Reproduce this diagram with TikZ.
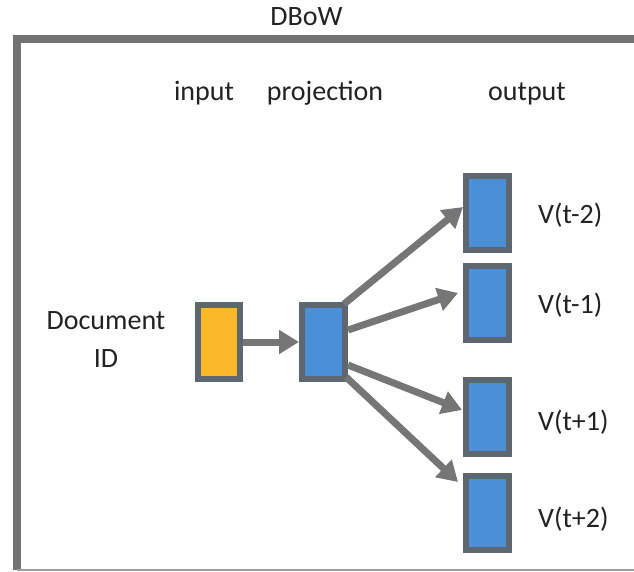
\documentclass[tikz,border=0pt]{standalone}
\usepackage{fontspec}
\setmainfont{Carlito}
\usetikzlibrary{arrows.meta,calc}
\definecolor{framegray}{HTML}{737373}
\definecolor{arrowgray}{HTML}{767676}
\definecolor{boxedge}{HTML}{5E6770}
\definecolor{yel}{HTML}{FBB829}
\definecolor{blu}{HTML}{4A90D9}
\definecolor{txt}{HTML}{222222}
\begin{document}
\begin{tikzpicture}[x=1pt,y=-1pt,
  lbl/.style={font=\fontsize{28}{38}\selectfont, text=txt, inner sep=0pt},
  unit/.style={draw=boxedge, line width=6pt, minimum width=43pt, minimum height=74pt, inner sep=0pt, fill=blu},
  flow/.style={draw=arrowgray, line width=7pt, -{Triangle[length=20pt,width=23pt]}}]
\useasboundingbox (0,0) rectangle (634,571);
\fill[white] (0,0) rectangle (634,571);
% frame
\coordinate (fbl) at (17,570);
\coordinate (ftl) at (17,39);
\coordinate (ftr) at (640,39);
\draw[framegray, line width=8pt, line join=miter] (fbl) -- (ftl) -- (ftr);
\coordinate (bbl) at (17,569.5);
\coordinate (bbr) at (640,569.5);
\draw[framegray!70, line width=2pt] (bbl) -- (bbr);
% labels
\node[lbl, anchor=base] (title) at (306.5,25) {DBoW};
\node[lbl, anchor=base] (linput) at (204,100) {input};
\node[lbl, anchor=base] (lproj) at (325,100) {projection};
\node[lbl, anchor=base] (lout) at (527,100) {output};
\node[lbl, align=center] (doc) at (106,340) {Document\\ID};
% boxes
\node[unit, fill=yel, minimum width=42pt] (in) at (219,342) {};
\node[unit] (proj) at (323.5,342) {};
\node[unit] (o1) at (487.5,213) {};
\node[unit] (o2) at (487.5,303) {};
\node[unit] (o3) at (487.5,417) {};
\node[unit] (o4) at (487.5,513) {};
% output labels
\node[lbl, anchor=base west] (v1) at (538,223) {V(t-2)};
\node[lbl, anchor=base west] (v2) at (538,313) {V(t-1)};
\node[lbl, anchor=base west] (v3) at (538,430) {V(t+1)};
\node[lbl, anchor=base west] (v4) at (538,527) {V(t+2)};
% arrows
\draw[flow] (in.east) -- (proj.west);
\draw[flow] ($(proj.north east)+(-4,2)$) -- ($(o1.west)+(0,-6)$);
\draw[flow] ($(proj.east)+(0,-12)$) -- ($(o2.west)+(-5,-10)$);
\draw[flow] ($(proj.east)+(0,23)$) -- ($(o3.west)+(-1,-7)$);
\draw[flow] ($(proj.south east)+(-2,-5)$) -- ($(o4.west)+(-5,-31)$);
\end{tikzpicture}
\end{document}
